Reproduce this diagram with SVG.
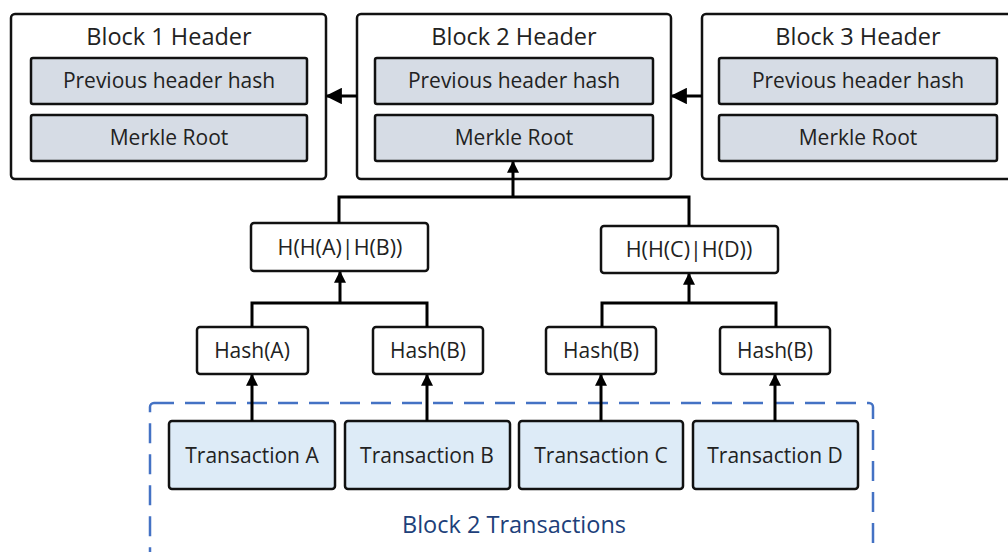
<svg xmlns="http://www.w3.org/2000/svg" width="1008" height="552" viewBox="0 0 1008 552">
<defs>
<style>
.outer{fill:#fff;stroke:#111;stroke-width:2.5}
.hdr{fill:#d6dce5;stroke:#111;stroke-width:2.5}
.tx{fill:#ddebf7;stroke:#111;stroke-width:2.5}
.hbox{fill:#fff;stroke:#111;stroke-width:2.5}
.ln{fill:none;stroke:#000;stroke-width:3}
.t{font-family:"Open Sans","Noto Sans",sans-serif;fill:#222;text-anchor:middle}
.title{font-size:23.5px}
.in{font-size:21px}
.hs{font-size:21px}
.hh{font-size:21.5px}
.txt{font-size:21px}
</style>
<marker id="ah" viewBox="0 0 10 10" refX="9" refY="5" markerWidth="4" markerHeight="4" orient="auto" markerUnits="strokeWidth">
<path d="M0,0 L10,5 L0,10 Z" fill="#000"/>
</marker>
<marker id="ahb" viewBox="0 0 10 10" refX="9" refY="5" markerWidth="5.5" markerHeight="5.5" orient="auto" markerUnits="strokeWidth">
<path d="M0,0 L10,5 L0,10 Z" fill="#000"/>
</marker>
</defs>
<rect width="1008" height="552" fill="#fff"/>

<g id="group-block2-tx">
<rect x="150" y="403" width="723" height="170" rx="4" fill="none" stroke="#4472c4" stroke-width="2.5" stroke-dasharray="20,11"/>
<text class="t" x="514" y="533" style="font-size:23.5px;fill:#203f7a">Block 2 Transactions</text>
</g>

<g id="block1">
<rect class="outer" x="11" y="14" width="315" height="165" rx="4"/>
<text class="t title" x="169" y="45">Block 1 Header</text>
<rect class="hdr" x="31" y="58" width="276" height="46" rx="2"/>
<text class="t in" x="169" y="88">Previous header hash</text>
<rect class="hdr" x="31" y="115" width="276" height="46" rx="2"/>
<text class="t in" x="169" y="145">Merkle Root</text>
</g>

<g id="block2">
<rect class="outer" x="357" y="14" width="314" height="165" rx="4"/>
<text class="t title" x="514" y="45">Block 2 Header</text>
<rect class="hdr" x="375" y="58" width="278" height="46" rx="2"/>
<text class="t in" x="514" y="88">Previous header hash</text>
<rect class="hdr" x="375" y="115" width="278" height="46" rx="2"/>
<text class="t in" x="514" y="145">Merkle Root</text>
</g>

<g id="block3">
<rect class="outer" x="702" y="14" width="320" height="165" rx="4"/>
<text class="t title" x="858" y="45">Block 3 Header</text>
<rect class="hdr" x="719" y="58" width="278" height="46" rx="2"/>
<text class="t in" x="858" y="88">Previous header hash</text>
<rect class="hdr" x="719" y="115" width="278" height="46" rx="2"/>
<text class="t in" x="858" y="145">Merkle Root</text>
</g>

<g id="hab">
<rect class="hbox" x="251" y="223" width="177" height="48" rx="3"/>
<text class="t hh" x="340" y="255">H(H(A)|H(B))</text>
</g>
<g id="hcd">
<rect class="hbox" x="601" y="226" width="177" height="47" rx="3"/>
<text class="t hh" x="689" y="257">H(H(C)|H(D))</text>
</g>

<g id="hashA">
<rect class="hbox" x="197" y="327" width="111" height="47" rx="3"/>
<text class="t hs" x="252" y="358">Hash(A)</text>
</g>
<g id="hashB1">
<rect class="hbox" x="373" y="327" width="110" height="47" rx="3"/>
<text class="t hs" x="428" y="358">Hash(B)</text>
</g>
<g id="hashB2">
<rect class="hbox" x="546" y="327" width="110" height="47" rx="3"/>
<text class="t hs" x="601" y="358">Hash(B)</text>
</g>
<g id="hashB3">
<rect class="hbox" x="720" y="327" width="110" height="47" rx="3"/>
<text class="t hs" x="775" y="358">Hash(B)</text>
</g>

<g id="txA">
<rect class="tx" x="169" y="421" width="166" height="68" rx="3"/>
<text class="t txt" x="252" y="463">Transaction A</text>
</g>
<g id="txB">
<rect class="tx" x="345" y="421" width="165" height="68" rx="3"/>
<text class="t txt" x="427" y="463">Transaction B</text>
</g>
<g id="txC">
<rect class="tx" x="519" y="421" width="164" height="68" rx="3"/>
<text class="t txt" x="601" y="463">Transaction C</text>
</g>
<g id="txD">
<rect class="tx" x="693" y="421" width="165" height="68" rx="3"/>
<text class="t txt" x="775" y="463">Transaction D</text>
</g>

<g id="connectors">
<line class="ln" x1="357" y1="96" x2="327" y2="96" marker-end="url(#ahb)"/>
<line class="ln" x1="702" y1="96" x2="672" y2="96" marker-end="url(#ahb)"/>
<line class="ln" x1="513" y1="197" x2="513" y2="162" marker-end="url(#ah)"/>
<polyline class="ln" points="339,223 339,197 689,197 689,226"/>
<line class="ln" x1="340" y1="303" x2="340" y2="272" marker-end="url(#ah)"/>
<polyline class="ln" points="252,327 252,303 427,303 427,327"/>
<line class="ln" x1="689" y1="303" x2="689" y2="274" marker-end="url(#ah)"/>
<polyline class="ln" points="602,327 602,303 776,303 776,327"/>
<line class="ln" x1="252" y1="421" x2="252" y2="375" marker-end="url(#ah)"/>
<line class="ln" x1="427" y1="421" x2="427" y2="375" marker-end="url(#ah)"/>
<line class="ln" x1="601" y1="421" x2="601" y2="375" marker-end="url(#ah)"/>
<line class="ln" x1="775" y1="421" x2="775" y2="375" marker-end="url(#ah)"/>
</g>
</svg>
